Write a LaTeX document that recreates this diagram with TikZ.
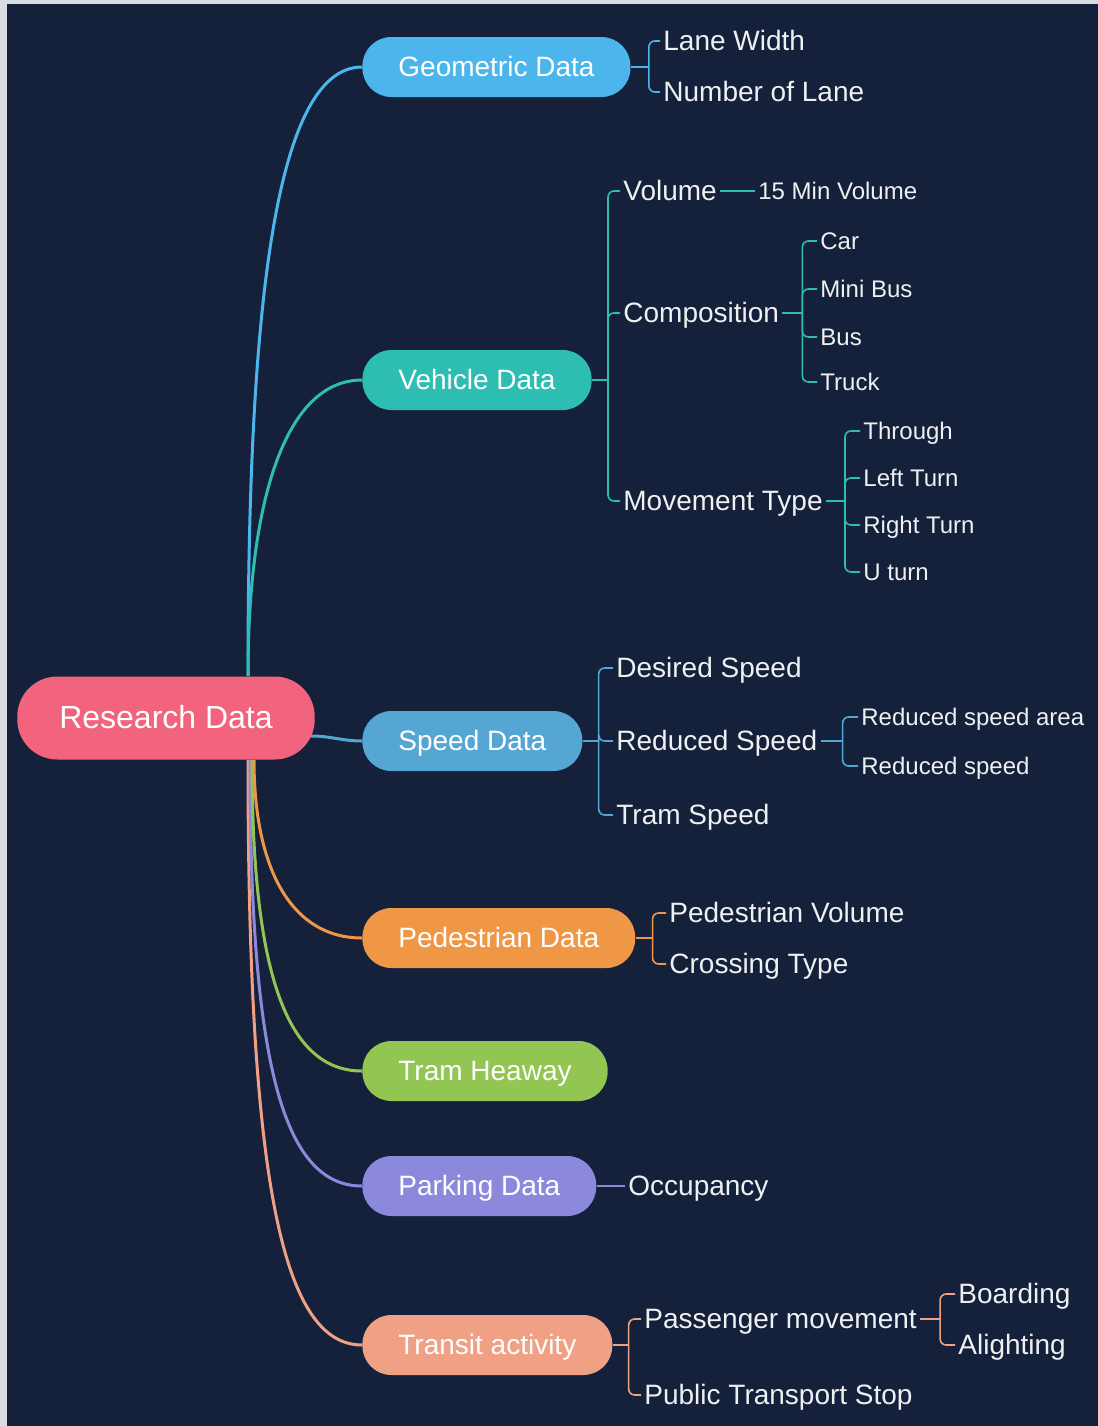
\documentclass[tikz,border=0pt]{standalone}
\usepackage{fontspec}
\setmainfont{Liberation Sans}
\definecolor{bgnavy}{HTML}{15213A}
\definecolor{rimgrey}{HTML}{D9DDE3}
\definecolor{rdpink}{HTML}{F2637D}
\definecolor{geoblue}{HTML}{4CB5EC}
\definecolor{vehteal}{HTML}{2DBDB2}
\definecolor{spdblue}{HTML}{56A6D4}
\definecolor{pedorange}{HTML}{EF9744}
\definecolor{tramgreen}{HTML}{93C553}
\definecolor{parkpurple}{HTML}{8C89DC}
\definecolor{transalmon}{HTML}{F0A085}
\definecolor{leafwhite}{HTML}{EEF0F2}

\begin{document}
\begin{tikzpicture}[
  x=0.5pt, y=-0.5pt,
  hub/.style={rectangle, rounded corners=20pt, fill=rdpink, text=white, minimum height=41.5pt, inner xsep=21pt, text height=11.5pt, text depth=1.5pt, font=\fontsize{16}{19}\selectfont},
  topic/.style={rectangle, rounded corners=14.5pt, minimum height=30pt, inner xsep=18pt, text height=10pt, text depth=1pt, text=white, anchor=west, font=\fontsize{14}{17}\selectfont},
  leaf/.style={text=leafwhite, inner xsep=1.5pt, inner ysep=1pt, text height=10pt, text depth=1pt, anchor=west, font=\fontsize{14}{17}\selectfont},
  twig/.style={leaf, text height=8.5pt, text depth=0.5pt, font=\fontsize{12}{14}\selectfont},
  branch/.style={line width=1.5pt},
  stem/.style={line width=0.8pt, rounded corners=3pt}
]
\useasboundingbox (0,0) rectangle (1098,1426);
\fill[rimgrey] (0,0) rectangle (1098,1426);
\fill[bgnavy] (7,4) rectangle (1098,1426);

\node[hub] (rd) at (166,718) {Research Data};
\node[topic, fill=geoblue] (geo) at (362,67) {Geometric Data};
\node[topic, fill=vehteal] (veh) at (362,380) {Vehicle Data};
\node[topic, fill=spdblue] (spd) at (362,741) {Speed Data};
\node[topic, fill=pedorange] (ped) at (362,938) {Pedestrian Data};
\node[topic, fill=tramgreen] (tram) at (362,1071) {Tram Heaway};
\node[topic, fill=parkpurple] (park) at (362,1186) {Parking Data};
\node[topic, fill=transalmon] (trans) at (362,1345) {Transit activity};

\node[leaf] (lw) at (660,41) {Lane Width};
\node[leaf] (nol) at (660,92) {Number of Lane};

\node[leaf] (vol) at (620,191) {Volume};
\node[twig] (minvol) at (755,191) {15 Min Volume};
\node[leaf] (comp) at (620,313) {Composition};
\node[twig] (car) at (817,241) {Car};
\node[twig] (minibus) at (817,289) {Mini Bus};
\node[twig] (bus) at (817,337) {Bus};
\node[twig] (truck) at (817,382) {Truck};
\node[leaf] (move) at (620,501) {Movement Type};
\node[twig] (thr) at (860,431) {Through};
\node[twig] (lt) at (860,478) {Left Turn};
\node[twig] (rt) at (860,525) {Right Turn};
\node[twig] (ut) at (860,572) {U turn};

\node[leaf] (des) at (613,668) {Desired Speed};
\node[leaf] (red) at (613,741) {Reduced Speed};
\node[leaf] (tsp) at (613,815) {Tram Speed};
\node[twig] (rsa) at (858,717) {Reduced speed area};
\node[twig] (rsp) at (858,766) {Reduced speed};

\node[leaf] (pv) at (666,913) {Pedestrian Volume};
\node[leaf] (ct) at (666,964) {Crossing Type};

\node[leaf] (occ) at (625,1186) {Occupancy};

\node[leaf] (pm) at (641,1319) {Passenger movement};
\node[leaf] (pts) at (641,1395) {Public Transport Stop};
\node[leaf] (board) at (955,1294) {Boarding};
\node[leaf] (alight) at (955,1345) {Alighting};

\draw[branch, geoblue] ([xshift=41pt]rd.north) .. controls +(0,-350) and +(-90,0) .. (geo.west);
\draw[branch, vehteal] ([xshift=41pt]rd.north) .. controls +(0,-180) and +(-75,0) .. (veh.west);
\draw[branch, spdblue] ([xshift=-2pt, yshift=-9pt]rd.east) .. controls +(20,0) and +(-20,0) .. (spd.west);
\draw[branch, transalmon] ([xshift=41pt]rd.south) .. controls +(0,420) and +(-80,0) .. (trans.west);
\draw[branch, parkpurple] ([xshift=42pt]rd.south) .. controls +(0,300) and +(-80,0) .. (park.west);
\draw[branch, tramgreen] ([xshift=43pt]rd.south) .. controls +(0,200) and +(-80,0) .. (tram.west);
\draw[branch, pedorange] ([xshift=44pt]rd.south) .. controls +(0,110) and +(-70,0) .. (ped.west);

\draw[stem, geoblue] (geo.east) -- ++(18,0) coordinate (geoj);
\draw[stem, geoblue] (geoj) |- (lw.west);
\draw[stem, geoblue] (geoj) |- (nol.west);

\draw[stem, vehteal] (veh.east) -- ++(16,0) coordinate (vehj);
\draw[stem, vehteal] (vehj) |- (vol.west);
\draw[stem, vehteal] (vehj) |- (comp.west);
\draw[stem, vehteal] (vehj) |- (move.west);
\draw[stem, vehteal] (vol) -- (minvol);
\draw[stem, vehteal] (comp.east) -- ++(20,0) coordinate (compj);
\draw[stem, vehteal] (compj) |- (car.west);
\draw[stem, vehteal] (compj) |- (minibus.west);
\draw[stem, vehteal] (compj) |- (bus.west);
\draw[stem, vehteal] (compj) |- (truck.west);
\draw[stem, vehteal] (move.east) -- ++(19,0) coordinate (movej);
\draw[stem, vehteal] (movej) |- (thr.west);
\draw[stem, vehteal] (movej) |- (lt.west);
\draw[stem, vehteal] (movej) |- (rt.west);
\draw[stem, vehteal] (movej) |- (ut.west);

\draw[stem, spdblue] (spd.east) -- ++(16,0) coordinate (spdj);
\draw[stem, spdblue] (spdj) |- (des.west);
\draw[stem, spdblue] (spdj) |- (red.west);
\draw[stem, spdblue] (spdj) |- (tsp.west);
\draw[stem, spdblue] (red.east) -- ++(22,0) coordinate (redj);
\draw[stem, spdblue] (redj) |- (rsa.west);
\draw[stem, spdblue] (redj) |- (rsp.west);

\draw[stem, pedorange] (ped.east) -- ++(17,0) coordinate (pedj);
\draw[stem, pedorange] (pedj) |- (pv.west);
\draw[stem, pedorange] (pedj) |- (ct.west);

\draw[stem, parkpurple] (park) -- (occ);

\draw[stem, transalmon] (trans.east) -- ++(16,0) coordinate (transj);
\draw[stem, transalmon] (transj) |- (pm.west);
\draw[stem, transalmon] (transj) |- (pts.west);
\draw[stem, transalmon] (pm.east) -- ++(20,0) coordinate (pmj);
\draw[stem, transalmon] (pmj) |- (board.west);
\draw[stem, transalmon] (pmj) |- (alight.west);
\end{tikzpicture}
\end{document}
